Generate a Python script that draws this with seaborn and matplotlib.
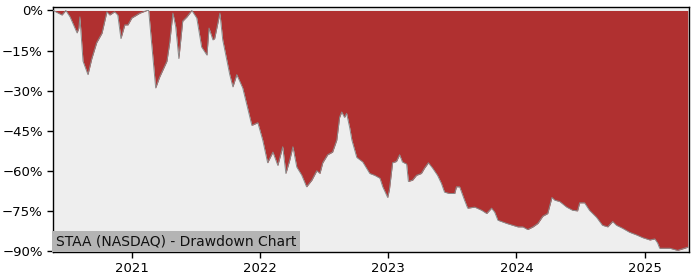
import matplotlib
matplotlib.use("Agg")
import matplotlib.pyplot as plt
import matplotlib.ticker as mticker
import matplotlib.dates as mdates
import seaborn as sns
import pandas as pd

dates = [
    "2020-05-21", "2020-06-15", "2020-06-26", "2020-07-08", "2020-07-28", "2020-08-02",
    "2020-08-05", "2020-08-14", "2020-08-28", "2020-09-08", "2020-09-22", "2020-10-07",
    "2020-10-21", "2020-10-29", "2020-11-12", "2020-11-21", "2020-11-30", "2020-12-11",
    "2020-12-20", "2020-12-31", "2021-01-23", "2021-02-12", "2021-02-17", "2021-03-09",
    "2021-03-20", "2021-04-10", "2021-04-18", "2021-04-27", "2021-05-05", "2021-05-14",
    "2021-05-25", "2021-06-06", "2021-06-20", "2021-07-04", "2021-07-18", "2021-08-02",
    "2021-08-08", "2021-08-19", "2021-08-24", "2021-09-08", "2021-09-16", "2021-10-06",
    "2021-10-15", "2021-10-26", "2021-11-12", "2021-12-08", "2021-12-25", "2022-01-08",
    "2022-01-22", "2022-02-06", "2022-02-20", "2022-03-06", "2022-03-15", "2022-03-26",
    "2022-04-04", "2022-04-15", "2022-04-29", "2022-05-13", "2022-05-28", "2022-06-11",
    "2022-06-20", "2022-06-28", "2022-07-12", "2022-07-26", "2022-08-07", "2022-08-15",
    "2022-08-21", "2022-08-29", "2022-09-04", "2022-09-13", "2022-09-19", "2022-10-03",
    "2022-10-20", "2022-11-09", "2022-11-23", "2022-12-08", "2022-12-16", "2022-12-30",
    "2023-01-04", "2023-01-13", "2023-01-24", "2023-02-02", "2023-02-10", "2023-02-22",
    "2023-02-27", "2023-03-11", "2023-03-22", "2023-04-05", "2023-04-14", "2023-04-25",
    "2023-05-07", "2023-05-21", "2023-06-01", "2023-06-10", "2023-06-24", "2023-07-09",
    "2023-07-14", "2023-07-23", "2023-08-06", "2023-08-15", "2023-09-04", "2023-09-24",
    "2023-10-08", "2023-10-22", "2023-10-31", "2023-11-09", "2023-12-04", "2023-12-21",
    "2024-01-05", "2024-01-19", "2024-02-02", "2024-02-17", "2024-03-02", "2024-03-16",
    "2024-03-30", "2024-04-11", "2024-04-19", "2024-05-03", "2024-05-23", "2024-06-09",
    "2024-06-23", "2024-06-29", "2024-07-13", "2024-07-27", "2024-08-16", "2024-09-02",
    "2024-09-17", "2024-10-01", "2024-10-12", "2024-10-29", "2024-11-18", "2024-12-08",
    "2024-12-25", "2025-01-15", "2025-01-29", "2025-02-06", "2025-02-12", "2025-03-13",
    "2025-04-04", "2025-04-24", "2025-05-03",
]
drawdown = [
    0.0, -1.7, 0.0, -2.4, -8.4, -6.6,
    -2.4, -19.0, -24.0, -18.0, -12.0, -8.5,
    -0.5, -1.7, -0.5, -1.7, -10.5, -5.4,
    -5.4, -2.8, -1.0, 0.0, 0.0, -29.0,
    -25.0, -19.0, -12.0, -1.0, -6.0, -18.0,
    -4.0, -2.4, 0.0, -2.8, -13.7, -16.7,
    -6.6, -11.0, -10.5, -1.0, -11.0, -24.0,
    -28.6, -24.0, -29.0, -43.0, -42.0, -48.5,
    -57.0, -53.0, -58.0, -51.0, -61.0, -56.0,
    -51.0, -58.6, -61.6, -66.0, -63.5, -60.0,
    -61.0, -57.0, -54.0, -53.0, -48.5, -40.0,
    -38.0, -40.0, -38.5, -44.0, -48.5, -55.0,
    -56.7, -61.0, -61.7, -62.8, -66.0, -70.0,
    -67.0, -57.0, -56.5, -54.0, -56.7, -57.5,
    -64.0, -63.5, -61.7, -61.0, -59.0, -57.0,
    -59.0, -61.7, -64.7, -68.0, -68.5, -68.5,
    -66.0, -66.0, -71.0, -74.0, -73.6, -74.8,
    -76.0, -74.0, -75.5, -78.5, -79.7, -80.4,
    -81.0, -81.0, -82.0, -81.0, -79.7, -77.0,
    -76.0, -70.0, -71.0, -71.5, -73.6, -74.8,
    -75.0, -72.0, -72.0, -74.8, -77.4, -80.4,
    -81.0, -79.0, -80.4, -81.5, -83.0, -84.0,
    -85.0, -85.9, -85.5, -87.0, -89.0, -89.0,
    -89.8, -89.0, -88.6,
]
yticks = [0, -15, -30, -45, -60, -75, -90]
title_text = "STAA (NASDAQ) - Drawdown Chart"

df = pd.DataFrame({"date": pd.to_datetime(dates), "drawdown": drawdown})

sns.set_style("ticks")
plt.rcParams["font.family"] = ["DejaVu Sans"]

fig = plt.figure(figsize=(7, 2.8), dpi=100)
ax = fig.add_axes([0.076, 0.1, 0.908, 0.875])
ax.set_facecolor("#eeeeee")

ax.fill_between(df["date"], df["drawdown"], 0, color="#b03030", linewidth=0, zorder=2)
sns.lineplot(data=df, x="date", y="drawdown", ax=ax, color="#8a8a8a", linewidth=0.7, zorder=3)

ax.set_xlim(pd.Timestamp("2020-05-21"), pd.Timestamp("2025-05-06"))
ax.set_ylim(-90.4, 1.3)
ax.set_yticks(yticks)
ax.yaxis.set_major_formatter(mticker.PercentFormatter(xmax=100, decimals=0))
ax.xaxis.set_major_locator(mdates.YearLocator())
ax.xaxis.set_major_formatter(mdates.DateFormatter("%Y"))
ax.set_xlabel("")
ax.set_ylabel("")
ax.tick_params(axis="both", labelsize=9.5, colors="black", length=4, width=1)
for s in ax.spines.values():
    s.set_visible(True)
    s.set_color("black")
    s.set_linewidth(1.0)

ax.text(0.004, 0.016, title_text, transform=ax.transAxes, fontsize=10, color="#111111",
        ha="left", va="bottom", zorder=5,
        bbox=dict(facecolor="#b4b4b4", edgecolor="none", pad=2.5))

fig.savefig("out.png", dpi=100)
